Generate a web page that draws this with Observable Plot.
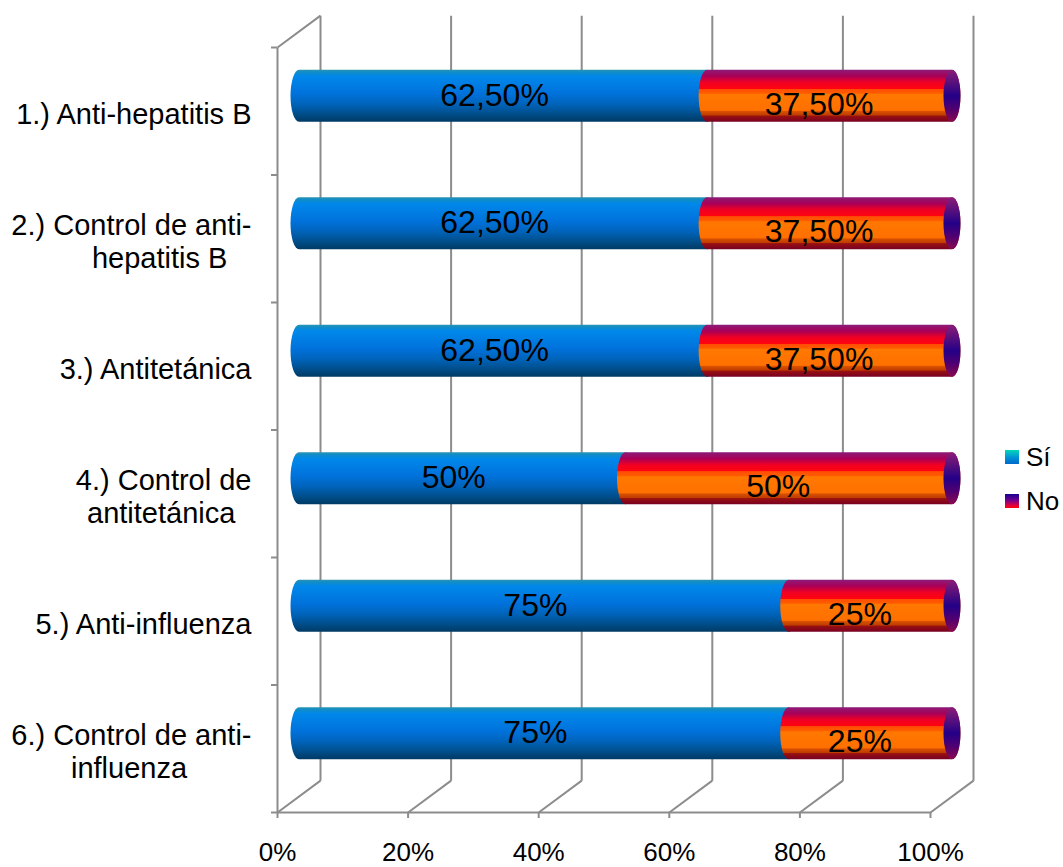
<!DOCTYPE html>
<html lang="es">
<head>
<meta charset="utf-8">
<title>Vacunas</title>
<script src="https://cdn.jsdelivr.net/npm/d3@7"></script>
<script src="https://cdn.jsdelivr.net/npm/@observablehq/plot@0.6"></script>
<style>
  html, body { margin: 0; background: #fff; }
  #chart { position: relative; width: 1063px; height: 867px; font-family: "Liberation Sans", Arial, sans-serif; }
  #chart svg { display: block; }
  .legend { position: absolute; left: 1005px; top: 435px; font-size: 26px; line-height: 44px; color: #000; }
  .legend div { display: flex; align-items: center; }
  .legend i { width: 14px; height: 14px; margin-right: 7px; }
  .si { background: linear-gradient(#00d8b8, #0090d8 55%, #0068c8); }
  .no { background: linear-gradient(#180090, #700090 45%, #e00040 80%, #ff0010); }
</style>
</head>
<body>
<div id="chart">
  <div class="legend">
    <div><i class="si"></i>Sí</div>
    <div><i class="no"></i>No</div>
  </div>
</div>
<script>
// Vaccination survey: share answering yes / no per vaccine
const categories = [
  "1.) Anti-hepatitis B",
  "2.) Control de anti-\nhepatitis B\u00a0\u00a0\u00a0",
  "3.) Antitetánica",
  "4.) Control de\nantitetánica\u00a0\u00a0",
  "5.) Anti-influenza",
  "6.) Control de anti-\ninfluenza\u00a0\u00a0\u00a0\u00a0\u00a0\u00a0\u00a0\u00a0"
];
const si = [62.5, 62.5, 62.5, 50, 75, 75];
const no = [37.5, 37.5, 37.5, 50, 25, 25];
const siLabels = ["62,50%", "62,50%", "62,50%", "50%", "75%", "75%"];
const noLabels = ["37,50%", "37,50%", "37,50%", "50%", "25%", "25%"];
const xTicks = [0, 20, 40, 60, 80, 100];
const yTicks = [0, 1, 2, 3, 4, 5, 6];

// Pseudo-3D depth of the chart box, in data units of each axis
const depthX = 6.585;
const depthY = 0.25;
const barHalf = 0.204;
const capRx = 8.5;
const capRy = 26;

const grey = "#8c8c8c";
const rows = categories.map((name, i) => ({
  name, row: i, si: si[i], no: no[i], siLabel: siLabels[i], noLabel: noLabels[i]
}));

// Vertical gradients that give the bars their cylinder shading
function gradients() {
  const g = d3.create("svg:g");
  const defs = g.append("defs");
  const add = (id, stops) => {
    const lg = defs.append("linearGradient")
      .attr("id", id).attr("x1", 0).attr("y1", 0).attr("x2", 0).attr("y2", 1);
    for (const [o, c] of stops) lg.append("stop").attr("offset", o).attr("stop-color", c);
  };
  add("cyl-si", [[0, "#2a93b4"], [0.05, "#0f8cc8"], [0.12, "#0088ea"], [0.45, "#0072dc"],
                 [0.65, "#0064bc"], [0.85, "#004e8a"], [1, "#003a64"]]);
  add("cyl-no", [[0, "#8c1c78"], [0.12, "#a80058"], [0.24, "#f00024"], [0.36, "#ff0410"],
                 [0.37, "#ff4c04"], [0.45, "#ff5c00"], [0.47, "#ff7800"], [0.78, "#ff7000"],
                 [0.8, "#d85000"], [0.87, "#c03c00"], [0.89, "#981010"], [1, "#780024"]]);
  add("cyl-cap", [[0, "#8c1c78"], [0.25, "#58107c"], [0.5, "#240088"], [0.75, "#500070"], [1, "#8a0a50"]]);
  return g.node();
}

const cylinder = {
  rx: capRx, ry: capRy,
  insetLeft: -capRx, insetRight: -capRx,
  dx: 0.5, dy: 1
};

const plot = Plot.plot({
  width: 1063,
  height: 867,
  marginLeft: 277,
  marginRight: 133,
  marginTop: 47,
  marginBottom: 55,
  style: { fontFamily: '"Liberation Sans", Arial, sans-serif', background: "#fff", color: "#000" },
  x: { domain: [0, 100] },
  y: { domain: [6, 0], reverse: false, range: [812, 47] },
  marks: [
    gradients,
    // Back wall gridlines
    Plot.link(xTicks, {
      x1: d => d + depthX, x2: d => d + depthX,
      y1: -depthY, y2: 6 - depthY, stroke: grey, strokeWidth: 2
    }),
    // Floor lines running from the front edge to the back wall
    Plot.link(xTicks, {
      x1: d => d, x2: d => d + depthX,
      y1: 6, y2: 6 - depthY, stroke: grey, strokeWidth: 2
    }),
    // Left wall: front edge and its top slant
    Plot.link([0], { x1: 0, x2: 0, y1: 0, y2: 6, stroke: grey, strokeWidth: 2 }),
    Plot.link([0], { x1: 0, x2: depthX, y1: 0, y2: -depthY, stroke: grey, strokeWidth: 2 }),
    // Front edge of the floor
    Plot.link([0], { x1: 0, x2: 100, y1: 6, y2: 6, stroke: grey, strokeWidth: 2 }),

    Plot.axisX({
      ticks: xTicks, tickFormat: d => d + "%", anchor: "bottom", label: null,
      tickSize: 6, tickPadding: 24, fontSize: 26, stroke: grey, strokeWidth: 2
    }),
    Plot.axisY({
      ticks: yTicks, tickFormat: () => "", anchor: "left", label: null,
      tickSize: 6, stroke: grey, strokeWidth: 2
    }),
    Plot.text(rows, {
      x: 0, y: d => d.row + 0.5, text: "name", textAnchor: "end", dx: -26, dy: 2.5,
      fontSize: 29, lineHeight: 1.14, fill: "#000"
    }),

    // Cylinders sit halfway through the box depth
    Plot.rect(rows, {
      ...cylinder,
      x1: () => depthX / 2, x2: d => d.si + depthX / 2,
      y1: d => d.row + 0.5 - depthY / 2 - barHalf, y2: d => d.row + 0.5 - depthY / 2 + barHalf,
      fill: "url(#cyl-si)"
    }),
    Plot.rect(rows, {
      ...cylinder,
      x1: d => d.si + depthX / 2, x2: d => d.si + d.no + depthX / 2,
      y1: d => d.row + 0.5 - depthY / 2 - barHalf, y2: d => d.row + 0.5 - depthY / 2 + barHalf,
      fill: "url(#cyl-no)"
    }),
    Plot.rect(rows, {
      ...cylinder,
      x1: d => d.si + d.no + depthX / 2, x2: d => d.si + d.no + depthX / 2,
      y1: d => d.row + 0.5 - depthY / 2 - barHalf, y2: d => d.row + 0.5 - depthY / 2 + barHalf,
      fill: "url(#cyl-cap)"
    }),

    Plot.text(rows, {
      x: d => d.si / 2, y: d => d.row + 0.5, text: "siLabel",
      dx: 13, dy: -16, fontSize: 32, fill: "#000"
    }),
    Plot.text(rows, {
      x: d => d.si + d.no / 2, y: d => d.row + 0.5, text: "noLabel",
      dx: 11, dy: -7, fontSize: 32, fill: "#000"
    })
  ]
});

document.getElementById("chart").prepend(plot);
</script>
</body>
</html>
